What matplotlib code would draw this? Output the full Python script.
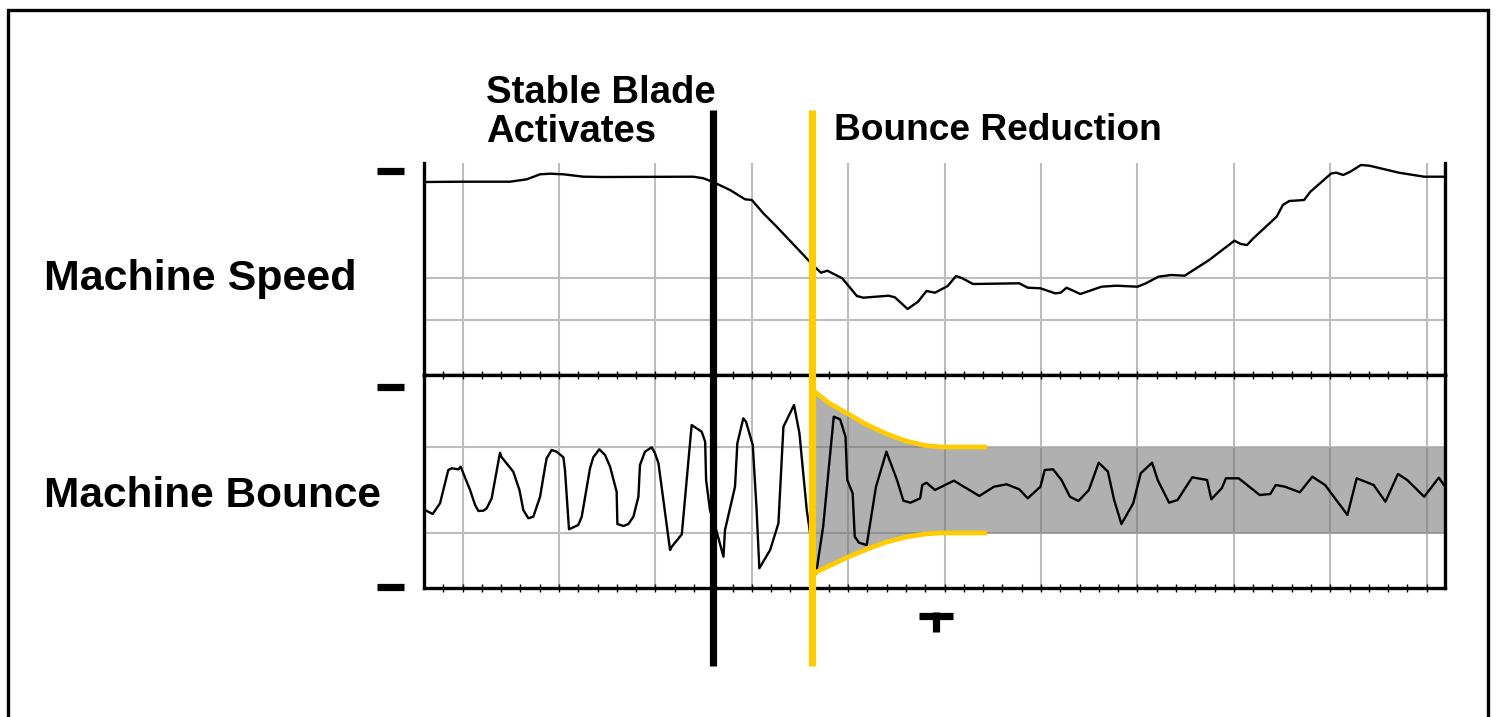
import matplotlib
matplotlib.use('Agg')
import matplotlib.pyplot as plt
from matplotlib.lines import Line2D
from matplotlib.patches import Rectangle

plt.rcParams['font.family'] = ['Liberation Sans', 'DejaVu Sans']

# Time axis: one unit per minor tick
speed_x = [0, 2, 4.46, 5.33, 6.02, 6.54, 7.23, 8.27, 9.3, 13.97, 14.49, 14.96,
           15.87, 16.65, 17.0, 17.6, 18.29, 19.68, 20.16, 20.59, 20.92, 21.69,
           22.45, 22.78, 24.09, 24.42, 25.08, 25.62, 26.06, 26.5, 27.16, 27.59,
           27.92, 28.47, 30.87, 31.31, 31.97, 32.73, 33.02, 33.32, 34.04, 35.14,
           35.9, 37.0, 37.44, 38.09, 38.75, 39.45, 40.72, 42.03, 42.36, 42.68,
           43.01, 44.22, 44.54, 44.87, 45.64, 45.97, 47.06, 47.32, 47.67, 48.04,
           48.59, 49.03, 50.56, 51.87, 52.96]
speed_y = [193, 193.3, 193.3, 195.7, 200.7, 201.3, 200.7, 198.3, 198, 198.3, 196.7, 193.3,
           185, 175.7, 175, 161.7, 148.3, 120, 110, 102.3, 104.3, 96.7,
           79, 77.3, 79.3, 77.7, 66, 73.3, 84, 82.3, 89, 99,
           96.7, 91, 91.7, 87.3, 86.7, 81.7, 82.3, 87.3, 81, 88.3,
           89.3, 88.3, 91.7, 98.3, 100, 99.3, 115, 134.3, 131, 130,
           136.7, 158.3, 170, 174, 175, 183.3, 201.7, 202.3, 200, 203.3,
           210, 209.3, 202.3, 198.3, 198.3]

bounce_x = [0.05, 0.45, 0.83, 1.26, 1.44, 1.78, 1.9, 2.39, 2.65, 2.82, 3.08, 3.25, 3.51, 3.94,
            4.03, 4.63, 4.95, 5.15, 5.41, 5.67, 6.02, 6.28, 6.36, 6.62, 6.88, 7.23, 7.31, 7.52, 8.0,
            8.18, 8.61, 8.78, 9.09, 9.39, 9.65, 9.99, 10.03, 10.34, 10.6, 10.86, 11.12, 11.2, 11.46,
            11.81, 11.98, 12.16,
            12.76, 12.85, 13.37, 13.88, 14.4, 14.58, 14.63, 14.83, 15.18, 15.53, 15.61, 16.13,
            16.25, 16.56, 16.7, 17.05, 17.25, 17.39, 17.95, 18.38, 18.64, 19.19, 19.47, 19.85,
            20.33, 20.7, 21.25, 21.58, 21.86, 21.95, 22.23, 22.34, 22.56, 22.96, 23.44, 23.98,
            24.53, 24.86, 25.23, 25.73, 25.84, 26.06, 26.5, 27.48, 28.8, 29.56, 30.22, 30.87,
            31.31, 31.97, 32.19, 32.62, 33.06, 33.5, 33.94, 34.48, 34.99, 35.47, 35.79, 36.17,
            36.78, 37.17, 37.76, 38.05, 38.64, 39.08, 39.84, 40.61, 40.83, 41.37, 41.59, 42.25,
            43.34, 43.89, 44.17, 44.65, 45.42, 46.07, 46.73, 47.89, 48.37, 49.25, 49.86, 50.51,
            50.99, 51.87, 52.63, 52.96]
bounce_y = [-20, -24, -13.3, 20, 21.7, 20.7, 23.3, 0, -15, -21, -20.7, -18.3, -8.3, 37.3,
            32.7, 18.3, 0, -20, -28.3, -26.7, -6.7, 23.3, 31.7, 40, 38.3, 32.7, 20, -39.3, -35,
            -26.7, 21.7, 32.7, 40.7, 35, 23.3, -1.7, -34, -36, -34, -26.7, -6.7, 25, 38.3,
            42.7, 36.7, 26.7,
            -60, -56.7, -44.3, 65, 58.3, 48.3, 10, -20, -41.7, -66.7, -40, 3.3,
            46.7, 71.7, 68.3, 45, -20, -78.3, -60, -33.3, 63.3, 85, 56.7, -20,
            -84, -36.7, 73.3, 70.7, 53.3, 10, -3.3, -46.7, -52.7, -55, 3.3, 38.3,
            10, -10.7, -12.7, -8.3, 5, 7.3, 0, 9.3, -6, 3.3, 5.7, 0.7,
            -8.3, 3.3, 20, 20.7, 10, -6.7, -11, 0, 27.3, 18.3, -10, -34,
            -13.3, 16.7, 27.3, 10, -12.7, -10, 12.7, 10, -9.3, 1.7, 11.7, 11.7,
            -5, -4, 5, 3.3, -2.3, 13.3, 5, -25, 11.7, 5, -11.7, 16,
            10, -6.7, 12.3, 3.3]

# envelope of the bounce after the blade activates
env_x = [20.15, 21.0, 22.0, 23.0, 24.0, 25.0, 26.0, 26.8, 29.2]
env_up = [100, 87, 76, 65, 56, 49, 44.5, 43, 43]
env_lo = [-84, -76, -67, -59, -52, -47, -44, -43, -43]
band_x = env_x + [52.95]
band_up = env_up + [43]
band_lo = env_lo + [-43]

stable_x = 15
reduction_x = 20.1
settle_x = 26.56

grid_x = list(range(2, 53, 5))
tick_x = list(range(1, 53))
speed_grid = [55, 97]
bounce_grid = [-43, 43]

YELLOW = '#ffcc00'
GRID = '#bdbdbd'

fig = plt.figure(figsize=(14.97, 7.17), dpi=100)
W, H = 1497, 717

def fx(px):
    return px / W

def fy(py):
    return (H - py) / H

ax1 = fig.add_axes([fx(424), fy(375), fx(1445) - fx(424), fy(163) - fy(375)])
ax2 = fig.add_axes([fx(424), fy(588), fx(1445) - fx(424), fy(375) - fy(588)])

for ax in (ax1, ax2):
    ax.set_xlim(0, 52.95)
    for g in grid_x:
        ax.axvline(g, color=GRID, lw=1.5, zorder=0)
    for s in ax.spines.values():
        s.set_linewidth(2.4)
    ax.set_yticks([])

ax1.set_ylim(0, 212)
ax1.spines['top'].set_visible(False)
ax1.set_xticks([])
for g in speed_grid:
    ax1.axhline(g, color=GRID, lw=1.5, zorder=0)
ax1.plot(speed_x, speed_y, color='black', lw=1.7, zorder=3)

ax2.set_ylim(-98, 115)
for g in bounce_grid:
    ax2.axhline(g, color=GRID, lw=1.5, zorder=0)
ax2.set_xticks(tick_x)
ax2.set_xticklabels([])
ax2.tick_params(axis='x', top=True, bottom=True, direction='inout', length=6, width=1.0)
ax2.fill_between(band_x, band_lo, band_up, color='#727072', alpha=0.55, lw=0, zorder=1)
ax2.plot(bounce_x, bounce_y, color='black', lw=1.7, zorder=3)
ax2.plot(env_x, env_up, color=YELLOW, lw=3.4, zorder=4, solid_capstyle='butt')
ax2.plot(env_x, env_lo, color=YELLOW, lw=3.4, zorder=4, solid_capstyle='butt')

# long vertical markers running across both panels
tr = ax2.get_xaxis_transform()
y_lo = (588 - 666) / 213
y_hi = (588 - 110) / 213
ax2.plot([stable_x, stable_x], [y_lo, y_hi], color='black', lw=5.2,
         transform=tr, clip_on=False, zorder=5, solid_capstyle='butt')
ax2.plot([reduction_x, reduction_x], [y_lo, y_hi], color=YELLOW, lw=5.2,
         transform=tr, clip_on=False, zorder=5, solid_capstyle='butt')

# T marker below the axis
ax2.plot([settle_x - 0.88, settle_x + 0.88], [(588 - 615.5) / 213] * 2, color='black',
         lw=5.2, transform=tr, clip_on=False, solid_capstyle='butt')
ax2.plot([settle_x, settle_x], [(588 - 612) / 213, (588 - 632) / 213], color='black',
         lw=5.2, transform=tr, clip_on=False, solid_capstyle='butt')

# left scale dashes
for py in (171, 387, 587):
    fig.add_artist(Line2D([fx(377), fx(404)], [fy(py), fy(py)], color='black',
                          lw=5.2, solid_capstyle='butt'))

# outer frame
fig.add_artist(Rectangle((fx(8), -0.05), fx(1488) - fx(8), fy(9.5) + 0.05,
                         fill=False, edgecolor='black', lw=2.4))

fig.text(fx(44), fy(290), 'Machine Speed', fontsize=31, fontweight='bold', va='baseline')
fig.text(fx(44), fy(507), 'Machine Bounce', fontsize=30.5, fontweight='bold', va='baseline')
fig.text(fx(486), fy(103), 'Stable Blade', fontsize=27.5, fontweight='bold', va='baseline')
fig.text(fx(486), fy(142), 'Activates', fontsize=27.5, fontweight='bold', va='baseline')
fig.text(fx(834), fy(140), 'Bounce Reduction', fontsize=26.7, fontweight='bold', va='baseline')

fig.savefig('out.png', dpi=100)
